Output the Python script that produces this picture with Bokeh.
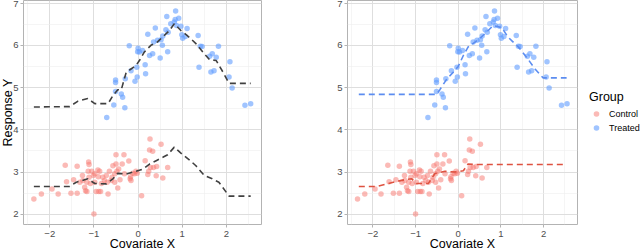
from bokeh.plotting import figure
from bokeh.layouts import row
from bokeh.models import FixedTicker, Legend, LegendItem
from bokeh.embed import file_html
from bokeh.resources import INLINE

# ---- data ----
control_x = [-2.36, -2.19, -1.95, -1.81, -1.65, -1.62, -1.52, -1.46, -1.38, -1.38, -1.32, -1.26, -1.25,
             -1.21, -1.19, -1.16, -1.16, -1.12, -1.11, -1.13, -1.11, -1.08, -1.05, -1.01, -1.00, -0.98,
             -0.98, -0.95, -0.91, -0.90, -0.89, -0.87, -0.83, -0.85, -0.80, -0.76, -0.72, -0.70, -0.68,
             -0.65, -0.61, -0.59, -0.57, -0.53, -0.53, -0.50, -0.50, -0.48, -0.46, -0.44, -0.41, -0.36,
             -0.32, -0.31, -0.21, -0.18, -0.17, -0.16, -0.12, -0.08, -0.05, -0.02, 0.08, 0.16, 0.22,
             0.24, 0.26, 0.27, 0.28, 0.33, 0.35, 0.41, 0.42, 0.52, 0.56, 0.67]
control_y = [2.36, 2.48, 2.60, 2.48, 3.16, 2.77, 2.50, 2.82, 3.14, 2.50, 2.76, 2.92, 2.80,
             2.64, 2.56, 2.54, 2.76, 3.24, 3.18, 3.02, 2.88, 2.73, 3.02, 2.92, 2.01, 2.76,
             2.96, 2.54, 3.05, 2.89, 2.54, 3.02, 2.73, 2.54, 2.88, 2.80, 2.92, 2.76, 2.48,
             3.02, 2.80, 2.88, 3.15, 2.96, 2.76, 3.41, 3.19, 3.02, 2.62, 3.07, 2.82, 3.19,
             3.41, 2.96, 3.26, 2.84, 2.89, 2.80, 2.97, 2.96, 3.02, 2.97, 2.44, 3.27, 2.94,
             3.02, 3.52, 3.78, 3.11, 3.49, 3.11, 2.91, 3.13, 3.66, 2.86, 3.11]

treated_x = [-0.71, -0.55, -0.51, -0.51, -0.51, -0.38, -0.35, -0.30, -0.29, -0.20, -0.16, -0.07,
             -0.02, -0.03, 0.00, -0.01, 0.03, 0.10, 0.16, 0.17, 0.22, 0.26, 0.33, 0.35, 0.39, 0.44,
             0.52, 0.50, 0.55, 0.56, 0.63, 0.65, 0.67, 0.68, 0.74, 0.82, 0.84, 0.85, 0.87, 0.92,
             0.97, 0.99, 1.01, 1.07, 1.11, 1.36, 1.41, 1.45, 1.38, 1.62, 1.68, 1.72, 1.65, 1.77,
             1.82, 2.08, 2.06, 2.13, 2.42, 2.55]
treated_y = [4.29, 4.59, 5.18, 5.12, 4.91, 4.85, 4.77, 4.52, 5.21, 5.99, 5.40, 5.15,
             5.25, 5.48, 5.93, 5.85, 5.84, 5.88, 5.54, 5.33, 6.26, 5.76, 5.80, 6.08, 6.41, 6.12,
             6.13, 5.70, 6.00, 6.22, 6.37, 6.68, 5.85, 6.31, 6.51, 6.55, 6.61, 6.81, 6.47, 6.64,
             6.45, 6.25, 6.17, 6.21, 6.40, 6.23, 5.98, 5.97, 5.48, 5.74, 5.80, 5.40, 5.37, 5.72,
             5.98, 5.61, 5.25, 4.99, 4.58, 4.62]

# left panel fitted curves (pooled model)
fit_t_x = [-2.36, -1.55, -1.36, -1.14, -0.98, -0.68, -0.57, -0.46, -0.38, -0.27, -0.16, -0.05, 0.03,
           0.14, 0.29, 0.44, 0.63, 0.71, 0.82, 0.97, 1.16, 1.31, 1.50, 1.62, 1.77, 1.92, 2.06, 2.55]
fit_t_y = [4.54, 4.55, 4.68, 4.74, 4.62, 4.62, 4.81, 4.95, 4.95, 5.36, 5.44, 5.52, 5.64,
           5.84, 6.00, 6.08, 6.27, 6.35, 6.51, 6.35, 6.19, 6.04, 5.80, 5.66, 5.64, 5.37, 5.10, 5.10]
fit_c_x = [-2.36, -1.55, -1.40, -1.14, -0.98, -0.72, -0.57, -0.46, -0.27, -0.05, 0.11, 0.26, 0.41,
           0.56, 0.67, 0.82, 0.97, 1.16, 1.31, 1.50, 1.68, 1.83, 2.06, 2.55]
fit_c_y = [2.66, 2.66, 2.76, 2.84, 2.73, 2.72, 2.84, 2.97, 2.95, 3.02, 3.07, 3.19, 3.27,
           3.35, 3.41, 3.59, 3.45, 3.29, 3.15, 2.92, 2.84, 2.76, 2.43, 2.43]

# right panel fitted curves (separate models)
sep_t_x = [-2.33, -0.51, -0.43, -0.27, -0.12, 0.00, 0.12, 0.23, 0.47, 0.66, 0.82, 1.02, 1.17,
           1.41, 1.60, 1.80, 1.99, 2.54]
sep_t_y = [4.84, 4.84, 4.95, 5.20, 5.36, 5.50, 5.76, 5.96, 6.13, 6.31, 6.47, 6.42, 6.19,
           5.96, 5.72, 5.44, 5.23, 5.23]
sep_c_x = [-2.33, -1.91, -1.48, -1.25, -1.09, -0.98, -0.70, -0.55, -0.31, -0.08, 0.12, 0.23, 0.39, 2.54]
sep_c_y = [2.66, 2.66, 2.77, 2.82, 2.84, 2.73, 2.73, 2.96, 3.02, 3.00, 3.03, 3.19, 3.18, 3.18]

groups = ["Control", "Treated"]
x_ticks = [-2, -1, 0, 1, 2]
x_minor = [-2.5, -1.5, -0.5, 0.5, 1.5, 2.5]
y_ticks = [2, 3, 4, 5, 6, 7]
y_minor = [2.5, 3.5, 4.5, 5.5, 6.5]

# ---- style ----
C_CTRL = "#F8766D"
C_TRT = "#619CFF"
FONT = "Liberation Sans"
X_RANGE = (-2.595, 2.795)
Y_RANGE = (1.759, 7.061)


def make_fig(frame_w, left_b, right_b, ylabel):
    p = figure(frame_width=frame_w, frame_height=224, x_range=X_RANGE, y_range=Y_RANGE,
               output_backend="svg", toolbar_location=None,
               min_border_left=left_b, min_border_right=right_b, min_border_top=0,
               min_border_bottom=0, background_fill_color="white",
               border_fill_color="white")
    p.outline_line_color = "#B3B3B3"
    p.outline_line_width = 1
    p.xaxis.ticker = FixedTicker(ticks=x_ticks, minor_ticks=x_minor)
    p.yaxis.ticker = FixedTicker(ticks=y_ticks, minor_ticks=y_minor)
    p.xaxis.major_label_overrides = {t: str(t).replace("-", "\u2212") for t in x_ticks}
    for ax in (p.xaxis[0], p.yaxis[0]):
        ax.axis_line_color = None
        ax.major_tick_line_color = "#B3B3B3"
        ax.major_tick_in = 0
        ax.major_tick_out = 3
        ax.minor_tick_line_color = None
        ax.major_label_text_font = FONT
        ax.major_label_text_font_size = "9.5px"
        ax.major_label_text_color = "#4D4D4D"
        ax.axis_label_text_font = FONT
        ax.axis_label_text_font_size = "12.5px"
        ax.axis_label_text_font_style = "normal"
        ax.axis_label_text_color = "#000000"
    p.xaxis.major_label_standoff = 2
    p.yaxis.major_label_standoff = 1
    p.xaxis.axis_label_standoff = -3
    p.yaxis.axis_label_standoff = -5
    p.xaxis.axis_label = "Covariate X"
    if ylabel:
        p.yaxis.axis_label = ylabel
    for g in (p.xgrid[0], p.ygrid[0]):
        g.grid_line_color = "#DEDEDE"
        g.grid_line_width = 1
        g.minor_grid_line_color = "#EFEFEF"
        g.minor_grid_line_width = 0.6
    return p


left = make_fig(238, 24, 62, "Response Y")
rc = left.scatter(control_x, control_y, size=5.5, color=C_CTRL, alpha=0.5, line_color=None)
rt = left.scatter(treated_x, treated_y, size=5.5, color=C_TRT, alpha=0.6, line_color=None)
left.line(fit_t_x, fit_t_y, line_color="#404040", line_width=1.6, line_dash="6 4")
left.line(fit_c_x, fit_c_y, line_color="#404040", line_width=1.6, line_dash="6 4")

right = make_fig(230, 24, 62, None)
rc2 = right.scatter(control_x, control_y, size=5.5, color=C_CTRL, alpha=0.5, line_color=None)
rt2 = right.scatter(treated_x, treated_y, size=5.5, color=C_TRT, alpha=0.6, line_color=None)
right.line(sep_t_x, sep_t_y, line_color="#5C8DF0", line_width=1.6, line_dash="6 4")
right.line(sep_c_x, sep_c_y, line_color="#DE5240", line_width=1.6, line_dash="6 4")

legend = Legend(items=[LegendItem(label=groups[0], renderers=[rc2]),
                       LegendItem(label=groups[1], renderers=[rt2])],
                location="left", title="Group")
legend.title_text_font = FONT
legend.title_text_font_size = "12.5px"
legend.title_text_font_style = "normal"
legend.title_text_color = "#000000"
legend.title_standoff = 3
legend.label_text_font = FONT
legend.label_text_font_size = "9px"
legend.label_text_color = "#000000"
legend.label_standoff = 6
legend.glyph_width = 14
legend.glyph_height = 14
legend.label_height = 14
legend.spacing = 0
legend.padding = 0
legend.margin = 12
legend.border_line_color = None
legend.background_fill_alpha = 0
right.add_layout(legend, "right")

layout = row(left, right, margin=(0, 0, 0, -2))

open("out.html", "w").write(file_html(layout, INLINE))
